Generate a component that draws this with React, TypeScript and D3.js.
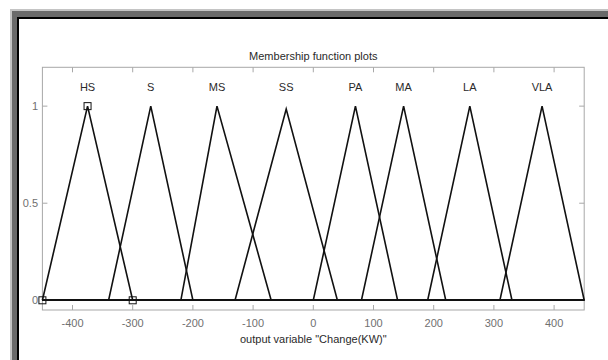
import React from "react";
import * as d3 from "d3";

const mfNames = ["HS", "S", "MS", "SS", "PA", "MA", "LA", "VLA"];
const mfLeft = [-450, -340, -220, -130, 0, 80, 190, 310];
const mfPeak = [-375, -270, -160, -45, 70, 150, 260, 380];
const mfRight = [-300, -200, -70, 40, 140, 220, 330, 450];
const mfHeight = [1, 1, 1, 0.985, 1, 1, 1, 1];
const xTicks = [-400, -300, -200, -100, 0, 100, 200, 300, 400];
const yTicks = [0, 0.5, 1];
const xDomain = [-450, 450];
const yDomain = [-0.05, 1.2];
const selectedIndex = 0;

const W = 608;
const H = 360;
const L = 42.4;
const R = 584.2;
const T = 67.3;
const B = 310;

export default function App() {
  const x = d3.scaleLinear().domain(xDomain).range([L, R]);
  const y = d3.scaleLinear().domain(yDomain).range([B, T]);
  const line = d3
    .line<[number, number]>()
    .x((d) => x(d[0]))
    .y((d) => y(d[1]));

  const tickColor = "#a8a8a8";
  const labelColor = "#707070";
  const font = "'Liberation Sans', Arial, sans-serif";

  const sel = selectedIndex;
  const markers: [number, number][] = [
    [mfLeft[sel], 0],
    [mfPeak[sel], mfHeight[sel]],
    [mfRight[sel], 0],
  ];

  return (
    <svg
      width={W}
      height={H}
      style={{ position: "absolute", left: 0, top: 0, display: "block" }}
      fontFamily={font}
    >
      <rect x={0} y={0} width={W} height={H} fill="#ffffff" />
      <rect x={10} y={9} width={W} height={H} fill="#c4c4c4" />
      <rect x={12} y={11} width={W} height={H} fill="#6a6a6a" />
      <rect x={17} y={17} width={W} height={H} fill="#000000" />
      <rect x={19} y={19} width={W} height={H} fill="#ffffff" />

      <text x={(L + R) / 2} y={60} textAnchor="middle" fontSize={11} fill="#2a2a2a">
        Membership function plots
      </text>

      <rect x={L} y={T} width={R - L} height={B - T} fill="none" stroke={tickColor} strokeWidth={1} />

      {xTicks.map((t) => (
        <g key={"xt" + t}>
          <line x1={x(t)} x2={x(t)} y1={B} y2={B - 5} stroke={tickColor} />
          <line x1={x(t)} x2={x(t)} y1={T} y2={T + 5} stroke={tickColor} />
          <text x={x(t)} y={327} textAnchor="middle" fontSize={11} fill={labelColor}>
            {t}
          </text>
        </g>
      ))}
      {yTicks.map((t) => (
        <g key={"yt" + t}>
          <line x1={L} x2={L + 5} y1={y(t)} y2={y(t)} stroke={tickColor} />
          <line x1={R} x2={R - 5} y1={y(t)} y2={y(t)} stroke={tickColor} />
          <text x={38} y={y(t) + 4} textAnchor="end" fontSize={11} fill={labelColor}>
            {t}
          </text>
        </g>
      ))}

      {mfNames.map((n, i) => {
        const pts: [number, number][] = [];
        if (mfLeft[i] > xDomain[0]) pts.push([xDomain[0], 0]);
        pts.push([mfLeft[i], 0]);
        pts.push([mfPeak[i], mfHeight[i]]);
        pts.push([mfRight[i], 0]);
        if (mfRight[i] < xDomain[1]) pts.push([xDomain[1], 0]);
        return (
          <path
            key={"mf" + n}
            d={line(pts) || ""}
            fill="none"
            stroke="#111"
            strokeWidth={1.6}
            strokeLinejoin="miter"
          />
        );
      })}

      {mfNames.map((n, i) => (
        <text key={"lab" + n} x={x(mfPeak[i])} y={91} textAnchor="middle" fontSize={11} fill="#2a2a2a">
          {n}
        </text>
      ))}

      {markers.map((m, i) => (
        <rect
          key={"mk" + i}
          x={x(m[0]) - 3.5}
          y={y(m[1]) - 3.5}
          width={7}
          height={7}
          fill="none"
          stroke="#111"
          strokeWidth={1}
        />
      ))}

      <text x={(L + R) / 2} y={343} textAnchor="middle" fontSize={11} fill="#2a2a2a">
        output variable "Change(KW)"
      </text>
    </svg>
  );
}
